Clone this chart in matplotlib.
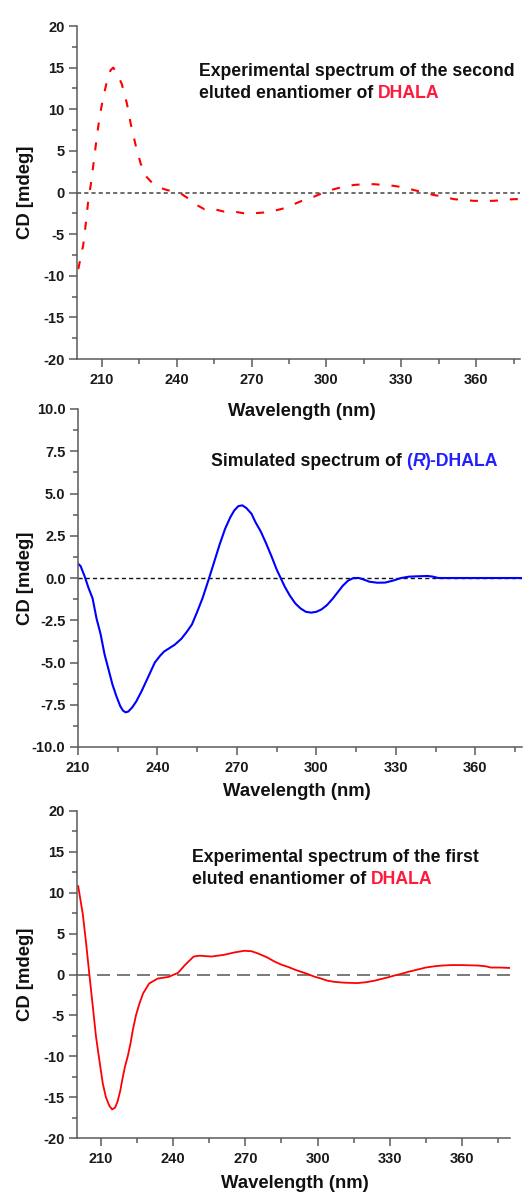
import matplotlib as mpl
mpl.use('Agg')
import matplotlib.pyplot as plt
from matplotlib.ticker import MultipleLocator, FormatStrFormatter

plt.rcParams['font.family'] = ['Liberation Sans', 'DejaVu Sans']
plt.rcParams['font.weight'] = 'bold'
plt.rcParams['lines.scale_dashes'] = False

# second eluted enantiomer (experimental, top)
wl_second = [200.5, 201.5, 202.5, 203.5, 204.5, 205.5, 206.5, 207.5, 208.5, 209.5,
             210.5, 211.5, 212.5, 213.5, 214.5, 215.5, 216.5, 218, 219, 220,
             221.5, 223.5, 225.5, 227.5, 230, 233, 236, 239, 242, 245,
             248, 251, 255, 259, 263, 267, 271, 275, 279, 283,
             287, 291, 295, 299, 303, 307, 311, 315, 319, 323,
             327, 331, 335, 339, 343, 347, 351, 355, 359, 363,
             367, 371, 375, 377.5]
cd_second = [-9.2, -7.8, -6.3, -3.8, -1.0, 0.9, 3.2, 5.6, 7.9, 9.8,
             11.4, 12.7, 14.0, 14.7, 15.0, 14.6, 14.0, 13.0, 11.8, 10.7,
             8.3, 5.7, 3.5, 2.0, 1.2, 0.6, 0.3, 0.1, -0.2, -0.8,
             -1.5, -2.0, -2.0, -2.3, -2.3, -2.5, -2.5, -2.4, -2.2, -1.9,
             -1.4, -0.9, -0.5, 0.0, 0.4, 0.7, 0.9, 1.0, 1.0, 0.9,
             0.8, 0.6, 0.3, 0.0, -0.3, -0.5, -0.8, -0.9, -1.0, -1.0,
             -1.0, -0.9, -0.8, -0.8]

# simulated (R)-DHALA (middle)
wl_sim = [210, 211, 212.5, 214, 215.5, 217, 218.5, 220, 221.5, 223,
          224.5, 226, 227, 228, 229, 230.5, 232, 234, 236.5, 239,
          241, 242.5, 244.5, 246.5, 249, 251, 253, 255, 257, 259.5,
          261.5, 263.5, 265.5, 267.5, 269, 270.5, 272, 273.5, 275.5, 277,
          279, 281, 283, 285, 286.5, 288, 290, 292, 294, 296,
          298, 300, 302, 304, 306, 308, 310, 312, 314, 316,
          318, 320, 323, 326, 329, 332, 335, 338, 342, 344,
          346, 350, 360, 370, 377.5]
cd_sim = [0.85, 0.7, 0.1, -0.6, -1.2, -2.4, -3.3, -4.5, -5.4, -6.3,
          -7.0, -7.6, -7.85, -7.95, -7.9, -7.65, -7.3, -6.7, -5.85, -5.0,
          -4.6, -4.35, -4.15, -3.95, -3.6, -3.2, -2.75, -2.0, -1.2, 0.0,
          1.0, 2.0, 2.9, 3.6, 4.0, 4.25, 4.3, 4.15, 3.8, 3.3,
          2.75, 2.05, 1.3, 0.5, 0.0, -0.5, -1.05, -1.5, -1.8, -2.0,
          -2.05, -2.0, -1.85, -1.6, -1.25, -0.85, -0.45, -0.15, 0.0, 0.0,
          -0.1, -0.22, -0.28, -0.27, -0.15, 0.0, 0.08, 0.1, 0.12, 0.08,
          0.0, 0.0, 0.0, 0.0, 0.0]

# first eluted enantiomer (experimental, bottom)
wl_first = [200.5, 202.4, 203.8, 205.1, 206.6, 207.9, 209.3, 210.7, 212, 213.5,
            214.6, 215.8, 216.9, 218, 219, 220, 221.1, 222.2, 223.2, 224.5,
            225.9, 227.5, 230, 233.5, 238, 242, 245, 248.5, 251, 256,
            261, 265.5, 269.5, 272.5, 275, 279, 282, 285, 288, 290.5,
            293, 296, 298.5, 301.5, 304, 307, 311, 316.5, 320, 323.5,
            326.5, 329, 332, 334.5, 338, 341.5, 345, 348.5, 352, 355.5,
            360, 366.5, 370, 372, 376, 380]
cd_first = [10.8, 7.4, 3.8, 0.1, -4.0, -7.6, -10.5, -13.3, -15.0, -16.1,
            -16.5, -16.3, -15.5, -14.2, -12.6, -11.2, -10.0, -8.5, -6.8, -5.0,
            -3.6, -2.3, -1.1, -0.5, -0.3, 0.2, 1.2, 2.2, 2.3, 2.2,
            2.4, 2.7, 2.9, 2.85, 2.6, 2.1, 1.6, 1.2, 0.9, 0.6,
            0.35, 0.05, -0.25, -0.5, -0.75, -0.9, -1.0, -1.05, -0.95, -0.77,
            -0.55, -0.37, -0.12, 0.05, 0.35, 0.6, 0.85, 1.0, 1.1, 1.15,
            1.15, 1.1, 1.0, 0.85, 0.85, 0.8]

W, H = 532, 1194
AXIS_C = '#5a5a5a'
TEXT_C = '#111111'
RED_TXT = '#ff1a3c'
BLUE_TXT = '#2020ff'

fig = plt.figure(figsize=(W / 100, H / 100), dpi=100)


def panel(box, xlim, ylim, ystep, yfmt):
    l, t, r, b = box
    ax = fig.add_axes([l / W, 1 - b / H, (r - l) / W, (b - t) / H])
    ax.set_xlim(*xlim)
    ax.set_ylim(*ylim)
    for s in ['top', 'right']:
        ax.spines[s].set_visible(False)
    for s in ['left', 'bottom']:
        ax.spines[s].set_color(AXIS_C)
        ax.spines[s].set_linewidth(1.1)
    ax.xaxis.set_major_locator(MultipleLocator(30))
    ax.xaxis.set_minor_locator(MultipleLocator(15))
    ax.yaxis.set_major_locator(MultipleLocator(ystep))
    ax.yaxis.set_minor_locator(MultipleLocator(ystep / 2))
    ax.yaxis.set_major_formatter(FormatStrFormatter(yfmt))
    ax.xaxis.set_major_formatter(FormatStrFormatter('%d'))
    ax.tick_params(which='major', direction='out', length=6, width=1.1,
                   color=AXIS_C, labelsize=10.5, labelcolor='#1a1a1a', pad=3)
    ax.tick_params(which='minor', direction='out', length=3.5, width=1.1, color=AXIS_C)
    ax.tick_params(axis='x', which='major', pad=4)
    ax.patch.set_visible(False)
    return ax


def labels(xc, yc_x, yc_y):
    fig.text(xc / W, 1 - yc_x / H, 'Wavelength (nm)', fontsize=13.3,
             ha='center', va='center', color=TEXT_C)
    fig.text(25 / W, 1 - yc_y / H, 'CD [mdeg]', fontsize=13.3, rotation=90,
             ha='center', va='center', color=TEXT_C)


# top panel
ax1 = panel((77, 26, 520, 359), (200, 377.6), (-20, 20), 5, '%d')
ax1.axhline(0, color='#444444', lw=1.1, dashes=(3, 2.2), zorder=1)
ax1.plot(wl_second, cd_second, color='#ff0000', lw=1.5, dashes=(5.8, 8.6), zorder=2)
labels(302, 412, 192.5)
t = fig.text(199 / W, 1 - 72 / H, 'Experimental spectrum of the second',
             fontsize=12.7, ha='left', va='center', color=TEXT_C)
t = fig.text(199 / W, 1 - 94 / H, 'eluted enantiomer of',
             fontsize=12.7, ha='left', va='center', color=TEXT_C)
ax1.annotate('DHALA', xy=(1, 0), xycoords=t, xytext=(3.5, 0), textcoords='offset points',
             ha='left', va='bottom', fontsize=12.7, color=RED_TXT)

# middle panel
ax2 = panel((78, 409, 522, 747), (210, 377.6), (-10, 10), 2.5, '%.1f')
ax2.axhline(0, color='#111111', lw=1.0, dashes=(3, 2.2), zorder=1)
ax2.plot(wl_sim, cd_sim, color='#0000ff', lw=1.5, zorder=2)
labels(297, 792, 578)
t = fig.text(211 / W, 1 - 461 / H, 'Simulated spectrum of',
             fontsize=12.7, ha='left', va='center', color=TEXT_C)
a = ax2.annotate('(', xy=(1, 0), xycoords=t, xytext=(3.5, 0), textcoords='offset points',
                 ha='left', va='bottom', fontsize=12.7, color=BLUE_TXT)
a = ax2.annotate('R', xy=(1, 0), xycoords=a, ha='left', va='bottom',
                 fontsize=12.7, color=BLUE_TXT, style='italic')
ax2.annotate(')-DHALA', xy=(1, 0), xycoords=a, ha='left', va='bottom',
             fontsize=12.7, color=BLUE_TXT)

# bottom panel
ax3 = panel((77, 811, 510, 1138), (200, 380), (-20, 20), 5, '%d')
ax3.axhline(0, color='#555555', lw=1.1, dashes=(9.4, 5), zorder=1)
ax3.plot(wl_first, cd_first, color='#ff0000', lw=1.3, zorder=2)
labels(295, 1183, 974.5)
t = fig.text(192 / W, 1 - 857 / H, 'Experimental spectrum of the first',
             fontsize=12.7, ha='left', va='center', color=TEXT_C)
t = fig.text(192 / W, 1 - 879 / H, 'eluted enantiomer of',
             fontsize=12.7, ha='left', va='center', color=TEXT_C)
ax3.annotate('DHALA', xy=(1, 0), xycoords=t, xytext=(3.5, 0), textcoords='offset points',
             ha='left', va='bottom', fontsize=12.7, color=RED_TXT)

fig.savefig('out.png', dpi=100)
plt.close(fig)
